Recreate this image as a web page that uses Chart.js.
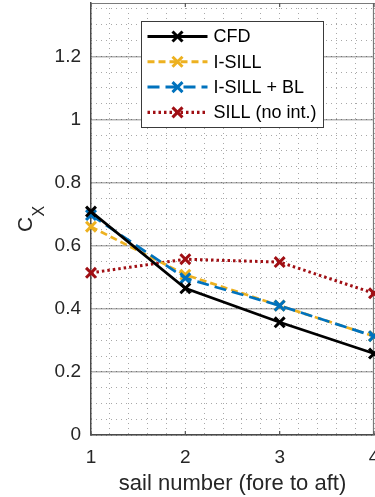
<!DOCTYPE html>
<html><head><meta charset="utf-8">
<script src="https://cdn.jsdelivr.net/npm/chart.js@4/dist/chart.umd.min.js"></script>
<style>html,body{margin:0;padding:0;background:#fff;overflow:hidden}
#wrap{width:375px;height:497px;position:relative}</style></head>
<body><div id="wrap"><canvas id="c"></canvas></div>
<script>
// ---- data ----
const sailNumbers = [1, 2, 3, 4];
const xTickLabels = ['1', '2', '3', '4'];
const yTickValues = [0, 0.2, 0.4, 0.6, 0.8, 1, 1.2];
const yMax = 1.369;
const cfd      = [0.708, 0.465, 0.357, 0.258];
const iSill    = [0.660, 0.508, 0.410, 0.313];
const iSillBL  = [0.697, 0.497, 0.410, 0.313];
const sillNoInt = [0.514, 0.557, 0.548, 0.449];
const seriesLabels = ['CFD', 'I-SILL', 'I-SILL + BL', 'SILL (no int.)'];
const xTitle = 'sail number (fore to aft)';
const yTitleMain = 'C';
const yTitleSub = 'X';

const FONT = '"Liberation Sans", Arial, Helvetica, sans-serif';
const TXT = '#262626';

function pts(arr) { return sailNumbers.map((x, i) => ({ x: x, y: arr[i] })); }

function ds(label, arr, color, dash, width, order) {
  return {
    label: label, data: pts(arr), borderColor: color, backgroundColor: color,
    borderWidth: width, borderDash: dash, tension: 0, fill: false,
    pointStyle: 'crossRot', pointRadius: 7, pointHoverRadius: 7,
    pointBorderWidth: 3, pointBorderColor: color, pointBackgroundColor: color,
    clip: false, order: order
  };
}

const datasets = [
  ds(seriesLabels[0], cfd, '#000000', [], 2.7, 0),
  ds(seriesLabels[1], iSill, '#EDB120', [7, 4], 2.7, 2),
  ds(seriesLabels[2], iSillBL, '#0072BD', [12, 6], 2.7, 1),
  ds(seriesLabels[3], sillNoInt, '#A00F14', [2.5, 3], 3, 3)
];

const framePlugin = {
  id: 'frame',
  beforeDatasetsDraw(chart) {
    const { ctx, chartArea: a, scales } = chart;
    ctx.save();
    ctx.strokeStyle = '#7a7a7a';
    ctx.lineWidth = 1.2;
    ctx.beginPath();
    ctx.moveTo(a.left, a.top + 0.5); ctx.lineTo(a.right, a.top + 0.5);
    ctx.moveTo(a.right - 0.5, a.top); ctx.lineTo(a.right - 0.5, a.bottom);
    ctx.stroke();
    ctx.strokeStyle = '#555';
    ctx.lineWidth = 1.2;
    ctx.beginPath();
    scales.x.ticks.forEach((t, i) => {
      const px = scales.x.getPixelForTick(i);
      ctx.moveTo(px, a.bottom); ctx.lineTo(px, a.bottom - 4);
      ctx.moveTo(px, a.top); ctx.lineTo(px, a.top + 4);
    });
    ctx.stroke();
    ctx.restore();
  },
  afterDraw(chart) {
    const { ctx, chartArea: a } = chart;
    ctx.save();
    const L = a.left + 50.5, T = a.top + 18.5, W = 182, H = 106;
    ctx.fillStyle = '#fff';
    ctx.fillRect(L, T, W, H);
    ctx.strokeStyle = '#3a3a3a';
    ctx.lineWidth = 1;
    ctx.strokeRect(L, T, W, H);
    chart.data.datasets.forEach((d, i) => {
      const y = T + 15 + i * 25.3;
      ctx.save();
      ctx.strokeStyle = d.borderColor;
      ctx.lineWidth = d.borderWidth + 0.3;
      ctx.setLineDash(d.borderDash);
      ctx.beginPath();
      ctx.moveTo(L + 6, y); ctx.lineTo(L + 66, y);
      ctx.stroke();
      ctx.setLineDash([]);
      ctx.lineWidth = 3;
      const r = 5;
      ctx.beginPath();
      ctx.moveTo(L + 36 - r, y - r); ctx.lineTo(L + 36 + r, y + r);
      ctx.moveTo(L + 36 + r, y - r); ctx.lineTo(L + 36 - r, y + r);
      ctx.stroke();
      ctx.restore();
      ctx.fillStyle = '#000';
      ctx.font = '18px ' + FONT;
      ctx.textBaseline = 'middle';
      ctx.textAlign = 'left';
      ctx.fillText(d.label, L + 72, y + 1);
    });
    ctx.translate(0, (a.top + a.bottom) / 2);
    ctx.rotate(-Math.PI / 2);
    ctx.fillStyle = TXT;
    ctx.textBaseline = 'alphabetic';
    ctx.textAlign = 'left';
    ctx.font = '21px ' + FONT;
    ctx.fillText(yTitleMain, -13, 32);
    ctx.font = '16px ' + FONT;
    ctx.fillText(yTitleSub, 2.5, 43.5);
    ctx.restore();
  }
};

new Chart(document.getElementById('c'), {
  type: 'line',
  data: { datasets: datasets },
  options: {
    responsive: true, maintainAspectRatio: false, animation: false,
    devicePixelRatio: 1,
    layout: { autoPadding: false, padding: { top: 3, right: 1, left: 0, bottom: 0 } },
    plugins: { legend: { display: false }, tooltip: { enabled: false } },
    scales: {
      xMinor: {
        type: 'linear', position: 'bottom', min: 1, max: 4,
        ticks: { display: false, stepSize: 0.2 },
        grid: { color: '#a8a8a8', lineWidth: 1, drawTicks: false },
        border: { display: false, dash: [1, 4] },
        afterFit(s) { s.height = 0; s.paddingLeft = 0; s.paddingRight = 0; }
      },
      yMinor: {
        type: 'linear', position: 'left', min: 0, max: yMax,
        ticks: { display: false, stepSize: 0.05, includeBounds: false },
        grid: { color: '#a8a8a8', lineWidth: 1, drawTicks: false },
        border: { display: false, dash: [1, 4] },
        afterFit(s) { s.width = 0; s.paddingTop = 0; s.paddingBottom = 0; }
      },
      x: {
        type: 'linear', position: 'bottom', min: 1, max: 4,
        afterBuildTicks(s) { s.ticks = sailNumbers.map(v => ({ value: v })); },
        ticks: {
          font: { size: 19, family: FONT }, color: TXT, padding: 11,
          maxRotation: 0, autoSkip: false,
          callback: (v) => xTickLabels[sailNumbers.indexOf(v)] ?? ''
        },
        grid: { display: false, drawTicks: false },
        border: { display: true, color: '#4a4a4a', width: 1.5 },
        title: { display: true, text: xTitle, color: TXT,
                 font: { size: 22, family: FONT }, padding: { top: 0, bottom: 0 } },
        afterFit(s) { s.height = 62; s.paddingRight = 0; s.paddingLeft = 0; }
      },
      y: {
        type: 'linear', position: 'left', min: 0, max: yMax,
        afterBuildTicks(s) { s.ticks = yTickValues.map(v => ({ value: v })); },
        ticks: {
          font: { size: 19, family: FONT }, color: TXT, padding: 10,
          autoSkip: false,
          callback: (v) => String(Number(v.toFixed(2)))
        },
        grid: { color: 'rgba(0,0,0,0.3)', lineWidth: 1.5, drawTicks: false },
        border: { display: true, color: '#4a4a4a', width: 1.5 },
        afterFit(s) { s.width = 91; s.paddingTop = 0; }
      }
    }
  },
  plugins: [framePlugin]
});
</script>
</body></html>
